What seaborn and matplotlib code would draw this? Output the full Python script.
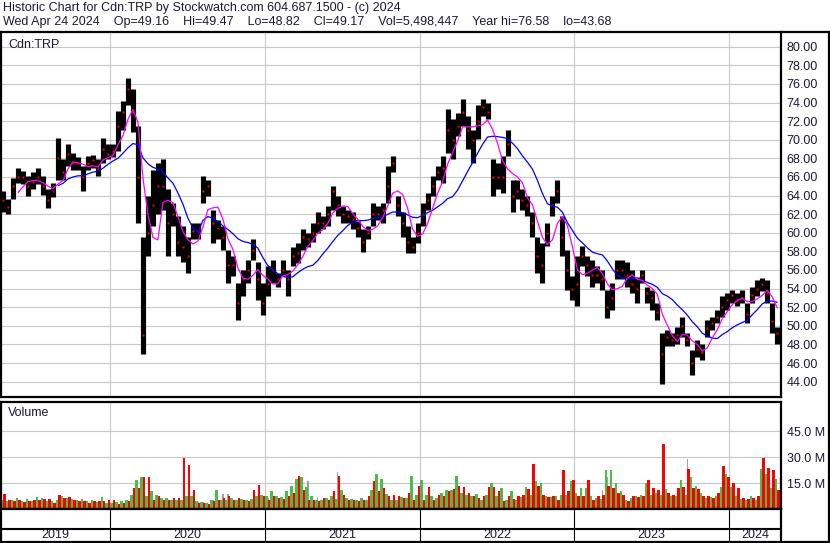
import numpy as np
import pandas as pd
import matplotlib
matplotlib.use("Agg")
import matplotlib.pyplot as plt
import matplotlib.dates as mdates
from matplotlib.lines import Line2D
import seaborn as sns

sns.set_style("white")
plt.rcParams['font.family'] = ['Liberation Sans', 'DejaVu Sans']

# price, sampled roughly every 12 days (high / low / close of each step)
hi = [64.5, 63.6, 65.9, 67.0, 66.6, 66.1, 66.5, 67.0, 66.1, 64.7, 65.4, 70.2, 67.9, 69.5, 68.6, 68.1,
      67.2, 68.3, 68.4, 67.9, 70.2, 69.5, 69.5, 73.1, 74.2, 76.6, 75.5, 71.5, 59.6, 63.9, 66.8, 67.5,
      67.9, 64.7, 63.2, 61.8, 60.7, 59.6, 61.1, 61.1, 66.1, 65.7, 62.5, 61.4, 60.7, 58.2, 57.5, 54.6,
      56.0, 57.1, 59.3, 56.9, 54.6, 56.4, 57.1, 55.7, 57.1, 56.0, 58.5, 58.9, 60.4, 60.0, 61.0, 62.2,
      61.8, 62.9, 65.0, 63.9, 62.9, 62.5, 62.2, 61.3, 60.4, 60.7, 63.2, 62.9, 63.2, 67.2, 68.3, 63.9,
      62.2, 60.7, 59.6, 61.1, 63.2, 64.3, 66.1, 67.2, 68.3, 73.3, 72.2, 72.9, 74.4, 72.6, 71.1, 73.7,
      74.4, 74.0, 67.9, 67.5, 68.3, 71.1, 65.7, 65.7, 64.7, 63.9, 62.2, 59.6, 58.9, 61.1, 63.9, 65.7,
      61.8, 58.2, 55.4, 57.5, 58.6, 57.5, 57.1, 56.4, 56.0, 53.9, 54.6, 57.1, 57.1, 56.9, 56.0, 55.3,
      56.0, 54.2, 53.9, 52.4, 49.2, 49.6, 49.2, 49.9, 51.0, 49.2, 47.4, 48.5, 48.1, 50.6, 51.0, 51.7,
      53.2, 53.5, 53.9, 53.5, 53.9, 52.4, 54.2, 54.9, 55.1, 54.9, 52.4, 49.9]
lo = [62.2, 62.0, 63.6, 65.4, 65.2, 64.0, 64.7, 65.2, 64.1, 62.7, 63.8, 65.7, 65.7, 67.2, 66.8, 66.8,
      64.5, 66.8, 67.0, 66.1, 67.5, 67.9, 68.1, 68.8, 71.1, 73.7, 70.8, 61.1, 47.0, 57.5, 60.7, 62.0,
      62.5, 57.5, 60.7, 57.5, 56.9, 55.7, 59.3, 59.3, 63.2, 64.0, 58.9, 59.3, 58.2, 54.6, 55.4, 50.6,
      53.2, 54.6, 57.1, 52.8, 51.2, 53.2, 54.6, 54.2, 55.4, 53.2, 56.4, 56.8, 58.2, 58.5, 59.0, 60.0,
      60.4, 60.7, 62.5, 61.8, 61.1, 61.1, 60.4, 59.6, 57.9, 59.3, 60.7, 61.4, 61.1, 63.2, 66.5, 61.8,
      59.6, 57.8, 57.8, 58.9, 60.7, 62.5, 64.0, 65.7, 65.4, 68.6, 67.9, 70.4, 71.5, 69.0, 67.5, 70.1,
      72.6, 72.2, 64.0, 64.7, 64.3, 68.3, 62.2, 63.6, 62.5, 61.8, 59.6, 55.7, 54.6, 58.6, 61.8, 63.2,
      57.5, 53.9, 52.8, 52.1, 56.4, 55.4, 54.2, 54.6, 53.9, 50.8, 51.7, 55.0, 55.0, 54.2, 53.5, 52.4,
      54.6, 52.4, 51.7, 50.6, 43.7, 47.8, 47.8, 48.1, 48.8, 47.8, 44.7, 46.7, 46.3, 48.8, 49.6, 50.3,
      51.0, 51.7, 52.4, 52.1, 52.4, 50.3, 52.4, 53.2, 53.7, 52.4, 49.2, 48.1]
cl = [63.5, 62.8, 65.0, 66.0, 66.0, 65.0, 65.5, 66.0, 65.0, 63.5, 64.5, 68.0, 66.5, 68.5, 67.5, 67.5,
      66.0, 67.5, 67.8, 67.0, 69.0, 68.5, 68.8, 71.5, 73.0, 75.5, 73.0, 66.0, 49.0, 60.0, 63.0, 65.0,
      65.0, 61.0, 62.0, 59.0, 58.5, 57.5, 60.2, 60.2, 64.5, 65.0, 61.0, 60.5, 59.5, 56.5, 56.5, 52.5,
      55.0, 56.0, 58.2, 55.0, 52.5, 54.5, 56.0, 55.0, 56.0, 55.0, 57.5, 57.8, 59.5, 59.3, 60.0, 61.0,
      61.0, 62.0, 64.5, 63.0, 62.0, 61.8, 61.5, 60.5, 59.0, 60.0, 62.0, 62.0, 62.5, 65.0, 67.5, 63.0,
      61.0, 59.0, 58.5, 60.0, 62.0, 63.5, 65.0, 66.5, 67.0, 71.0, 70.0, 71.5, 73.0, 71.0, 70.0, 72.0,
      73.5, 73.0, 66.0, 66.0, 66.0, 69.5, 64.0, 64.5, 63.5, 63.0, 61.0, 57.5, 56.5, 60.0, 63.0, 64.5,
      59.5, 56.0, 54.0, 54.5, 57.5, 56.5, 55.5, 55.5, 55.0, 52.0, 53.0, 56.0, 56.0, 55.5, 54.5, 54.0,
      55.5, 53.5, 53.0, 51.5, 47.0, 48.8, 48.5, 49.0, 50.0, 48.5, 46.0, 47.5, 47.2, 49.8, 50.3, 51.0,
      52.0, 52.8, 53.3, 52.8, 53.0, 51.3, 53.3, 54.0, 54.5, 53.5, 50.5, 49.2]

# volume (millions) per step: up days (green), down days (red), unchanged (grey)
vol_g = [5.4, 4.4, 5.4, 6.3, 4.4, 5.8, 4.4, 6.9, 6.3, 4.4, 4.4, 5.4, 7.3, 6.2, 5.8, 5.4,
         6.0, 4.4, 5.4, 3.8, 6.9, 3.5, 3.5, 3.8, 4.4, 5.4, 8.3, 16.9, 18.5, 7.3, 10.2, 8.3,
         6.3, 6.3, 5.4, 5.4, 5.0, 7.3, 7.3, 4.4, 3.8, 3.5, 5.4, 11.2, 5.4, 5.0, 6.3, 5.4,
         5.8, 5.4, 5.8, 7.3, 8.3, 7.3, 10.6, 7.3, 6.9, 10.2, 13.5, 17.3, 18.8, 12.7, 7.3, 5.4,
         5.4, 6.3, 7.3, 6.0, 11.2, 6.3, 5.8, 5.4, 6.3, 5.4, 11.2, 20.4, 17.3, 8.8, 5.4, 5.4,
         6.9, 6.3, 19.2, 8.3, 16.9, 8.3, 7.3, 6.3, 9.2, 11.2, 11.2, 19.2, 9.2, 8.3, 7.7, 8.8,
         5.4, 8.3, 15.0, 7.7, 12.1, 5.4, 10.2, 5.4, 6.9, 12.7, 8.0, 16.0, 15.0, 7.3, 6.9, 7.3,
         8.0, 8.3, 16.0, 9.2, 12.1, 12.1, 7.3, 6.3, 6.0, 22.3, 22.3, 15.0, 10.2, 5.4, 6.3, 7.3,
         8.3, 15.0, 8.3, 9.2, 8.0, 11.5, 7.3, 7.3, 16.9, 8.0, 18.8, 13.1, 9.2, 6.3, 6.9, 7.3,
         12.7, 20.4, 12.7, 7.3, 5.8, 5.4, 7.3, 5.4, 23.1, 20.4, 12.1, 17.3]
vol_r = [8.7, 5.4, 4.4, 5.4, 3.8, 4.4, 5.4, 5.4, 5.8, 5.8, 3.5, 8.3, 6.3, 6.9, 5.0, 4.4,
         4.4, 3.5, 4.4, 4.4, 4.8, 5.4, 5.4, 3.1, 3.5, 4.8, 12.1, 12.1, 18.5, 18.5, 5.4, 7.3,
         5.4, 5.4, 6.3, 6.2, 29.4, 25.6, 11.2, 3.5, 3.5, 3.1, 4.4, 5.4, 6.3, 7.3, 5.4, 6.3,
         5.4, 4.4, 11.2, 14.0, 7.3, 5.0, 7.3, 6.3, 5.8, 7.3, 9.2, 19.2, 10.8, 5.0, 5.4, 4.4,
         6.3, 5.4, 10.2, 19.2, 8.3, 5.4, 5.4, 4.4, 5.4, 7.3, 16.0, 10.2, 12.1, 7.3, 8.3, 7.3,
         6.3, 9.2, 5.0, 13.5, 5.4, 12.7, 5.0, 8.3, 7.3, 10.2, 11.5, 13.1, 12.7, 9.2, 7.3, 6.3,
         7.3, 12.7, 12.7, 10.2, 4.4, 7.3, 5.8, 7.3, 8.3, 11.5, 26.2, 13.1, 8.3, 6.9, 7.3, 5.4,
         22.3, 10.2, 16.9, 7.3, 7.3, 16.9, 5.4, 7.3, 8.3, 13.1, 12.1, 9.2, 8.3, 4.4, 7.3, 6.9,
         7.7, 16.9, 12.1, 11.2, 37.7, 9.2, 8.3, 12.1, 12.7, 23.1, 12.1, 11.5, 7.3, 7.3, 6.3, 9.2,
         25.0, 18.5, 15.0, 12.1, 6.3, 5.8, 6.3, 7.3, 29.4, 23.7, 22.3, 11.2]
gray_idx = [39, 40, 42, 44, 45, 53, 61, 63, 67, 86, 98, 120, 121, 137, 155]
gray_vol = [3.8, 4.2, 5.4, 8.7, 8.7, 6.3, 16.0, 6.9, 21.2, 6.9, 8.3, 11.2, 18.8, 28.8, 11.2]

years = ['2019', '2020', '2021', '2022', '2023', '2024']
price_ticks = list(range(44, 81, 2))
vol_ticks = [15, 30, 45]

dates = pd.date_range('2019-04-24', '2024-04-24', periods=len(hi))
x = mdates.date2num(dates)
df = pd.DataFrame({'x': x, 'hi': hi, 'lo': lo, 'cl': cl})
df['ma_s'] = df['cl'].rolling(4).mean()
df['ma_l'] = df['cl'].rolling(12).mean()

x0 = mdates.date2num(pd.Timestamp('2019-04-19'))
x1 = mdates.date2num(pd.Timestamp('2024-05-03'))
bounds = [mdates.date2num(pd.Timestamp(f'{y}-01-01')) for y in years[1:]]
step = x[1] - x[0]

W, H = 830, 543
def box(l, t, r, b):
    return [l / W, 1 - b / H, (r - l) / W, (b - t) / H]

fig = plt.figure(figsize=(8.3, 5.43), dpi=100)
txtc = '#1a1a33'
fs = 9

# price panel
ax = fig.add_axes(box(1, 32, 781, 397))
ax.vlines(df['x'], df['lo'], df['hi'], color='black', lw=3.7, capstyle='butt')
ax.plot(df['x'], df['cl'], ls='none', marker='s', ms=1.6, mec='none', color='red')
sns.lineplot(data=df, x='x', y='ma_l', color='#0000ff', lw=0.9, ax=ax)
sns.lineplot(data=df, x='x', y='ma_s', color='#ff00ff', lw=0.9, ax=ax)
ax.set_xlim(x0, x1)
ax.set_ylim(42.35, 81.58)
ax.set_yticks(price_ticks)
ax.set_yticklabels([f'{v:.2f}' for v in price_ticks])
ax.set_xticks(bounds)
ax.set_xticklabels([])
ax.text(7 / 780, 1 - 13 / 365, 'Cdn:TRP', transform=ax.transAxes, fontsize=fs, va='center', color=txtc)

# volume panel
axv = fig.add_axes(box(1, 402, 781, 509))
half = step / 2
gx = [x[i] for i in gray_idx]
axv.bar(gx, gray_vol, width=step * 0.3, color='#a0a0a0', lw=0)
axv.bar(x - half / 2, vol_g, width=half, color='#4cbb4c', lw=0)
axv.bar(x + half / 2, vol_r, width=half, color='#ff0000', lw=0)
axv.set_xlim(x0, x1)
axv.set_ylim(0, 61.9)
axv.set_yticks(vol_ticks)
axv.set_yticklabels([f'{v:.1f} M' for v in vol_ticks])
axv.set_xticks(bounds)
axv.set_xticklabels([])
axv.text(7 / 780, 1 - 11 / 107, 'Volume', transform=axv.transAxes, fontsize=fs, va='center', color=txtc)

for a in (ax, axv):
    a.set_xlabel('')
    a.set_ylabel('')
    a.yaxis.tick_right()
    a.tick_params(axis='y', length=0, pad=4, labelsize=fs, labelcolor=txtc)
    a.tick_params(axis='x', length=0)
    a.grid(True, color='#c8c8c8', lw=0.8)
    a.set_axisbelow(True)
    for s in a.spines.values():
        s.set_color('black')
        s.set_linewidth(1.6)

# year row
axy = fig.add_axes(box(1, 509, 781, 542))
axy.set_xlim(x0, x1)
axy.set_ylim(0, 33)
axy.set_xticks([])
axy.set_yticks([])
for b in bounds:
    axy.axvline(b, color='black', lw=0.8)
axy.axhline(14.5, color='black', lw=0.8)
axy.axhline(13, color='black', lw=0.8)
edges = [x0] + bounds + [x1]
for i, yr in enumerate(years):
    axy.text((edges[i] + edges[i + 1]) / 2, 6.5, yr, ha='center', va='center', fontsize=fs, color=txtc)
for s in axy.spines.values():
    s.set_color('black')
    s.set_linewidth(1.6)

# header
fig.text(3 / W, 1 - 2 / H, 'Historic Chart for Cdn:TRP by Stockwatch.com 604.687.1500 - (c) 2024',
         fontsize=fs, va='top', color=txtc)
fig.text(3 / W, 1 - 16 / H,
         'Wed Apr 24 2024    Op=49.16    Hi=49.47    Lo=48.82    Cl=49.17    Vol=5,498,447    Year hi=76.58    lo=43.68',
         fontsize=fs, va='top', color=txtc)
fig.add_artist(Line2D([781 / W, 1], [1 - 32 / H, 1 - 32 / H], color='black', lw=1.6))
fig.add_artist(Line2D([829 / W, 829 / W], [0, 1 - 32 / H], color='black', lw=1.6))
fig.add_artist(Line2D([781 / W, 1], [1 / H, 1 / H], color='black', lw=1.6))

fig.savefig('out.png', dpi=100)
